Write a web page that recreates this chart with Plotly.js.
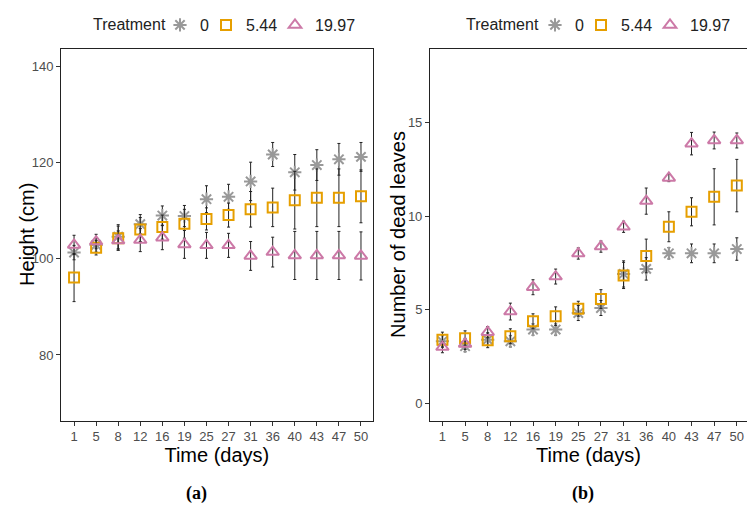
<!DOCTYPE html>
<html>
<head>
<meta charset="utf-8">
<script src="https://cdn.plot.ly/plotly-3.0.1.min.js"></script>
<style>html,body{margin:0;padding:0;background:#fff;}#chart{width:747px;height:511px;}</style>
</head>
<body>
<div id="chart"></div>
<script>
// Categories (days)
const days = ['1','5','8','12','16','19','25','27','31','36','40','43','47','50'];
const treatments = ['0','5.44','19.97'];

// (a) Height (cm)
const height0     = [101.3, 102.9, 104.6, 107.2, 109.0, 108.9, 112.4, 112.9, 116.1, 121.7, 118.0, 119.5, 120.7, 121.2];
const height0Err  = [1.5, 1.5, 2.5, 2.0, 2.0, 2.2, 2.8, 2.6, 4.0, 2.5, 3.7, 3.2, 3.3, 3.0];
const height544   = [96.1, 102.3, 104.3, 106.1, 106.6, 107.3, 108.3, 109.1, 110.3, 110.7, 112.2, 112.7, 112.7, 113.0];
const height544Err= [5.0, 1.5, 2.5, 2.5, 2.5, 3.0, 2.3, 2.5, 3.7, 4.0, 6.0, 6.0, 6.0, 5.5];
const height1997  = [102.9, 103.6, 103.8, 103.9, 104.4, 103.0, 102.8, 102.8, 100.6, 101.4, 100.7, 100.7, 100.7, 100.6];
const height1997Err=[2.0, 1.5, 2.0, 2.4, 2.5, 2.9, 2.7, 2.5, 3.0, 3.1, 5.0, 5.0, 5.0, 5.0];

// (b) Number of dead leaves
const dead0       = [3.31, 3.05, 3.40, 3.31, 3.94, 3.94, 4.82, 5.09, 6.91, 7.18, 8.01, 8.01, 8.01, 8.24];
const dead0Err    = [0.3, 0.3, 0.3, 0.3, 0.3, 0.3, 0.4, 0.4, 0.7, 0.6, 0.3, 0.5, 0.5, 0.6];
const dead544     = [3.40, 3.47, 3.37, 3.58, 4.38, 4.65, 5.05, 5.57, 6.83, 7.87, 9.43, 10.23, 11.03, 11.63];
const dead544Err  = [0.4, 0.4, 0.4, 0.4, 0.4, 0.5, 0.4, 0.5, 0.7, 0.9, 0.8, 0.75, 1.5, 1.4];
const dead1997    = [3.00, 3.17, 3.80, 4.90, 6.20, 6.77, 8.00, 8.37, 9.43, 10.80, 12.04, 13.87, 14.04, 14.04];
const dead1997Err = [0.3, 0.3, 0.3, 0.45, 0.4, 0.4, 0.3, 0.3, 0.3, 0.7, 0.2, 0.6, 0.45, 0.4];

const colors = ['#999999', '#E69F00', '#CC79A7'];
const symbols = ['asterisk-open', 'square-open', 'triangle-up-open'];
const sizes = [11, 10, 11];
const legendWidths = [1, 24, 40];

const heightSeries = [[height0, height0Err], [height544, height544Err], [height1997, height1997Err]];
const deadSeries = [[dead0, dead0Err], [dead544, dead544Err], [dead1997, dead1997Err]];

function mk(series, i, xa, ya, leg) {
  return {
    type: 'scatter', mode: 'markers',
    x: days, y: series[0], xaxis: xa, yaxis: ya,
    name: treatments[i], legend: leg, legendwidth: legendWidths[i],
    marker: {symbol: symbols[i], size: sizes[i], color: colors[i], line: {color: colors[i], width: 2}},
    error_y: {type: 'data', array: series[1], visible: true, color: '#222222', thickness: 1, width: 1.5},
    hoverinfo: 'skip'
  };
}

const traces = [];
heightSeries.forEach((s, i) => traces.push(mk(s, i, 'x', 'y', 'legend')));
deadSeries.forEach((s, i) => traces.push(mk(s, i, 'x2', 'y2', 'legend2')));

const FAM = 'Liberation Sans, Arial, sans-serif';
const tickFont = {family: FAM, size: 13, color: '#4D4D4D'};
const titleFont = {family: FAM, size: 20, color: '#000000'};
const legFont = {family: FAM, size: 16, color: '#222222'};

function xax(domain, range, anchor) {
  return {
    domain: domain, anchor: anchor, type: 'category', range: range,
    categoryorder: 'array', categoryarray: days,
    showgrid: false, zeroline: false,
    showline: true, linecolor: '#222222', linewidth: 1, mirror: true,
    ticks: 'outside', ticklen: 4, tickcolor: '#333333', tickwidth: 1,
    tickfont: tickFont,
    title: {text: 'Time (days)', font: titleFont, standoff: 2}
  };
}
function yax(domain, range, tickvals, anchor) {
  return {
    domain: domain, anchor: anchor, range: range,
    tickmode: 'array', tickvals: tickvals,
    showgrid: false, zeroline: false,
    showline: true, linecolor: '#222222', linewidth: 1, mirror: true,
    ticks: 'outside', ticklen: 4, tickcolor: '#333333', tickwidth: 1,
    tickfont: tickFont
  };
}

const legY = 1 - 25 / 511;
const legendBase = {
  orientation: 'h', xanchor: 'left', yanchor: 'middle', y: legY,
  font: legFont, itemwidth: 30, tracegroupgap: 0, bgcolor: 'rgba(0,0,0,0)'
};

const yDom = [0.1771, 0.9035];
const yMid = (yDom[0] + yDom[1]) / 2;
const layout = {
  width: 747, height: 511,
  margin: {l: 0, r: 0, t: 0, b: 0},
  paper_bgcolor: '#ffffff', plot_bgcolor: '#ffffff',
  showlegend: true,
  xaxis: xax([0.0817, 0.4989], [-0.59, 13.53], 'y'),
  yaxis: yax(yDom, [66.37, 143.58], [80, 100, 120, 140], 'x'),
  xaxis2: xax([0.5756, 1.0], [-0.55, 13.45], 'y2'),
  yaxis2: yax(yDom, [-0.92, 18.91], [0, 5, 10, 15], 'x2'),
  legend: Object.assign({}, legendBase, {x: 160 / 747}),
  legend2: Object.assign({}, legendBase, {x: 535 / 747}),
  annotations: [
    {text: 'Treatment', xref: 'paper', yref: 'paper', x: 168/747, y: legY, xanchor: 'right', yanchor: 'middle', showarrow: false, font: legFont},
    {text: 'Treatment', xref: 'paper', yref: 'paper', x: 541/747, y: legY, xanchor: 'right', yanchor: 'middle', showarrow: false, font: legFont},
    {text: 'Height (cm)', xref: 'paper', yref: 'paper', x: 27/747, y: yMid, textangle: -90,
     xanchor: 'center', yanchor: 'middle', showarrow: false, font: titleFont},
    {text: 'Number of dead leaves', xref: 'paper', yref: 'paper', x: 398/747, y: yMid, textangle: -90,
     xanchor: 'center', yanchor: 'middle', showarrow: false, font: titleFont},
    {text: '<b>(a)</b>', xref: 'paper', yref: 'paper', x: 196/747, y: 1 - 493/511, xanchor: 'center', yanchor: 'middle', showarrow: false,
     font: {family: 'Liberation Serif, DejaVu Serif, serif', size: 18, color: '#000'}},
    {text: '<b>(b)</b>', xref: 'paper', yref: 'paper', x: 583/747, y: 1 - 493/511, xanchor: 'center', yanchor: 'middle', showarrow: false,
     font: {family: 'Liberation Serif, DejaVu Serif, serif', size: 18, color: '#000'}}
  ]
};

Plotly.newPlot('chart', traces, layout, {staticPlot: true, displayModeBar: false});
</script>
</body>
</html>
